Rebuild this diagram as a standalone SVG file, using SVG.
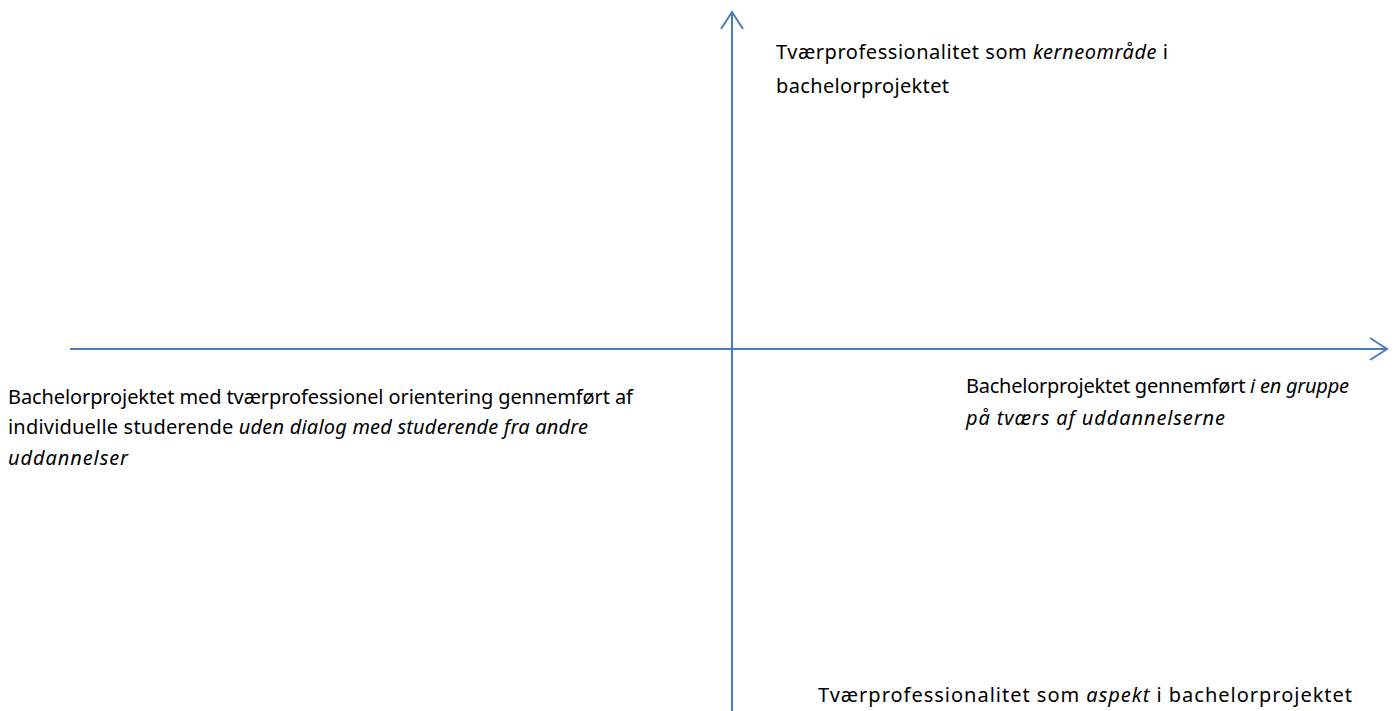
<svg xmlns="http://www.w3.org/2000/svg" width="1397" height="711" viewBox="0 0 1397 711">
<style>
.ax{stroke:#4A7EBB;stroke-width:2;fill:none}
.t{font-family:"Noto Sans","Liberation Sans",Arial,sans-serif;font-size:20px;fill:#000}
.i{font-style:italic}
</style>
<defs>
<marker id="open" markerUnits="userSpaceOnUse" viewBox="0 0 20 24" refX="18" refY="12" markerWidth="20" markerHeight="24" orient="auto">
<path d="M1,1 L18,12 L1,23" fill="none" stroke="#4A7EBB" stroke-width="2"/>
</marker>
</defs>
<rect width="1397" height="711" fill="#fff"/>
<g id="connectors">
<line class="ax" x1="70" y1="349" x2="1387" y2="349" marker-end="url(#open)"/>
<line class="ax" x1="732" y1="711" x2="732" y2="12" marker-end="url(#open)"/>
</g>
<g id="top-label">
<text class="t" x="776" y="59" textLength="392" lengthAdjust="spacing">Tværprofessionalitet som <tspan class="i">kerneområde</tspan> i</text>
<text class="t" x="776" y="93" textLength="173" lengthAdjust="spacing">bachelorprojektet</text>
</g>
<g id="left-label">
<text class="t" x="8" y="404" textLength="625" lengthAdjust="spacing">Bachelorprojektet med tværprofessionel orientering gennemført af</text>
<text class="t" x="8" y="434" textLength="580" lengthAdjust="spacing">individuelle studerende <tspan class="i">uden dialog med studerende fra andre</tspan></text>
<text class="t i" x="8" y="465" textLength="120" lengthAdjust="spacing">uddannelser</text>
</g>
<g id="right-label">
<text class="t" x="966" y="393" textLength="383" lengthAdjust="spacing">Bachelorprojektet gennemført <tspan class="i">i en gruppe</tspan></text>
<text class="t i" x="966" y="425" textLength="259" lengthAdjust="spacing">på tværs af uddannelserne</text>
</g>
<g id="bottom-label">
<text class="t" x="818" y="702" textLength="534" lengthAdjust="spacing">Tværprofessionalitet som <tspan class="i">aspekt</tspan> i bachelorprojektet</text>
</g>
</svg>
